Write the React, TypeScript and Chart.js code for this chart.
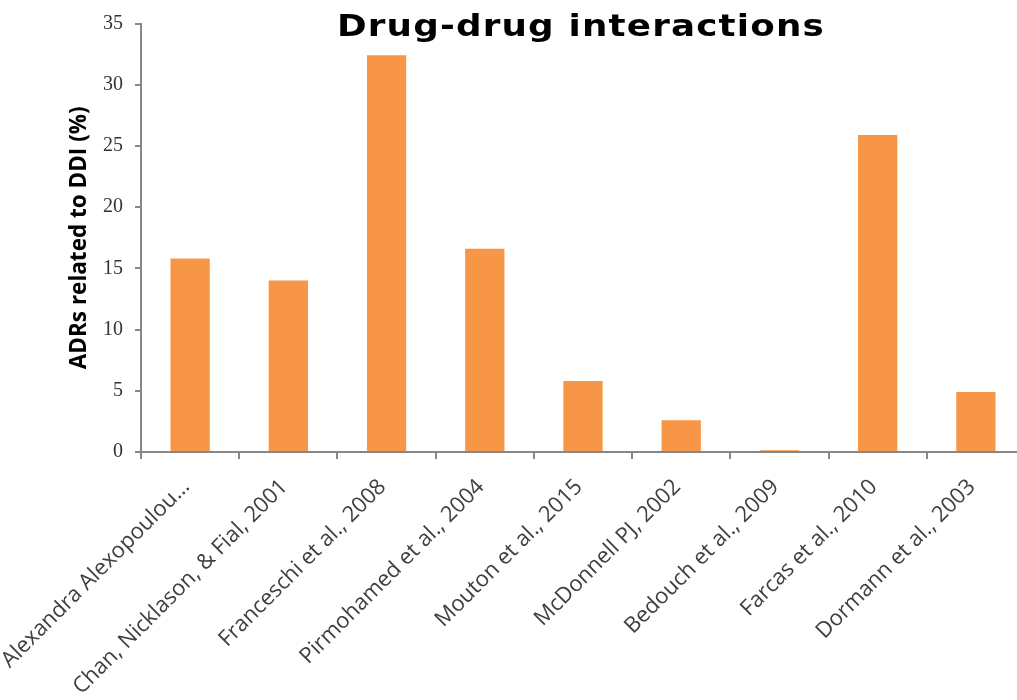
import React, { useEffect, useRef } from "react";
import { Chart, registerables } from "chart.js";

Chart.register(...registerables);

const TITLE = "Drug-drug interactions";
const Y_TITLE = "ADRs related to DDI (%)";

const studies = [
  "Alexandra Alexopoulou…",
  "Chan, Nicklason, & Fial, 2001",
  "Franceschi et al., 2008",
  "Pirmohamed et al., 2004",
  "Mouton et al., 2015",
  "McDonnell PJ, 2002",
  "Bedouch et al., 2009",
  "Farcas et al., 2010",
  "Dormann et al., 2003",
];

const ddiShare = [15.8, 14.0, 32.4, 16.6, 5.8, 2.6, 0.15, 25.9, 4.9];

const Y_MIN = 0;
const Y_MAX = 35;
const Y_STEP = 5;

const BAR_COLOR = "#F79646";
const AXIS_COLOR = "#868686";

// Heading drawn over the top of the plot, centred on the plot area,
// with widened letterforms
const headingPlugin = {
  id: "heading",
  afterDraw(chart: any) {
    const { ctx, chartArea } = chart;
    ctx.save();
    ctx.font = 'bold 30px "DejaVu Sans"';
    (ctx as any).letterSpacing = "1px";
    ctx.fillStyle = "#000000";
    ctx.textAlign = "center";
    ctx.textBaseline = "alphabetic";
    ctx.translate((chartArea.left + chartArea.right) / 2 - 2, chartArea.top + 12);
    ctx.scale(1.19, 1);
    ctx.fillText(TITLE, 0, 0);
    ctx.restore();
  },
};

export default function App() {
  const canvasRef = useRef<HTMLCanvasElement | null>(null);

  useEffect(() => {
    if (!canvasRef.current) return;
    const chart = new Chart(canvasRef.current, {
      type: "bar",
      data: {
        labels: studies,
        datasets: [
          {
            data: ddiShare,
            backgroundColor: BAR_COLOR,
            borderWidth: 0,
            categoryPercentage: 1,
            barPercentage: 0.4,
          },
        ],
      },
      options: {
        responsive: false,
        animation: false,
        devicePixelRatio: 1,
        layout: { padding: { top: 23.5, right: 15, left: 0, bottom: 0 } },
        plugins: {
          legend: { display: false },
          tooltip: { enabled: false },
          title: { display: false },
        },
        scales: {
          x: {
            afterFit(scale: any) {
              scale.height = 248;
              scale.paddingLeft = 0;
              scale.paddingRight = 0;
            },
            grid: {
              drawOnChartArea: false,
              drawTicks: true,
              tickLength: 7,
              color: AXIS_COLOR,
              lineWidth: 2,
              offset: true,
            },
            border: { display: true, color: AXIS_COLOR, width: 2 },
            ticks: {
              autoSkip: false,
              minRotation: 45,
              maxRotation: 45,
              padding: 15,
              labelOffset: -4,
              color: "#404040",
              font: { family: '"Open Sans"', size: 22, weight: "normal" },
            },
          },
          y: {
            min: Y_MIN,
            max: Y_MAX,
            afterFit(scale: any) {
              scale.width = 141;
              scale.paddingTop = 0;
              scale.paddingBottom = 0;
            },
            grid: {
              drawOnChartArea: false,
              drawTicks: true,
              tickLength: 6,
              color: AXIS_COLOR,
              lineWidth: 2,
            },
            border: { display: true, color: AXIS_COLOR, width: 2 },
            ticks: {
              stepSize: Y_STEP,
              padding: 12,
              color: "#333333",
              font: { family: '"Liberation Serif"', size: 20 },
            },
            title: {
              display: true,
              text: Y_TITLE,
              color: "#000000",
              padding: { top: 66, bottom: 0 },
              font: { family: '"Open Sans"', size: 22.5, weight: "bold" },
            },
          },
        },
      },
      plugins: [headingPlugin],
    });
    return () => chart.destroy();
  }, []);

  return (
    <div
      style={{
        position: "absolute",
        left: 0,
        top: 0,
        width: 1017,
        height: 700,
        overflow: "hidden",
        background: "#ffffff",
      }}
    >
      <canvas ref={canvasRef} width={1040} height={700} />
    </div>
  );
}
